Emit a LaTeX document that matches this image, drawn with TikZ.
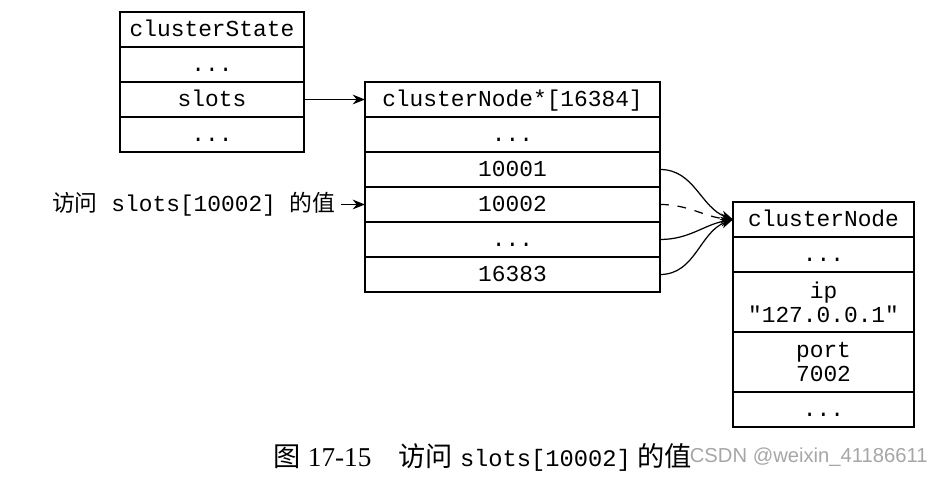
\documentclass[tikz,border=0pt]{standalone}
\usepackage{fontspec}
\setmainfont{Liberation Serif}
\setsansfont{Liberation Sans}
\setmonofont{Liberation Mono}
\newfontfamily\cjk{Noto Sans CJK SC}
\usepackage{tikz}
\usetikzlibrary{arrows.meta}

\begin{document}
\begin{tikzpicture}[font=\fontsize{13}{13.5}\selectfont\ttfamily, >={Stealth[length=7pt, width=5.5pt]},
  cell/.style={draw, line width=0.9pt, align=center, minimum height=7mm, inner sep=0pt, outer sep=0pt,
    text height=8.5pt, text depth=0pt},
  st/.style={cell, minimum width=3.68cm},
  slot/.style={cell, minimum width=5.9cm},
  cn/.style={cell, minimum width=3.62cm}]
  \useasboundingbox (0,0) rectangle (18.74,-9.54);
  % clusterState
  \node[st] (S1) at (4.24,-0.59) {clusterState};
  \node[st] (S2) at (4.24,-1.29) {...};
  \node[st] (S3) at (4.24,-1.99) {slots};
  \node[st] (S4) at (4.24,-2.69) {...};
  % slots array
  \node[slot] (A1) at (10.25,-1.99) {clusterNode*[16384]};
  \node[slot] (A2) at (10.25,-2.69) {...};
  \node[slot] (A3) at (10.25,-3.39) {10001};
  \node[slot] (A4) at (10.25,-4.09) {10002};
  \node[slot] (A5) at (10.25,-4.79) {...};
  \node[slot] (A6) at (10.25,-5.49) {16383};
  % clusterNode
  \node[cn] (C1) at (16.47,-4.39) {clusterNode};
  \node[cn] (C2) at (16.47,-5.09) {...};
  \node[cn, minimum height=12mm, text height=, text depth=] (C3) at (16.47,-6.04) {ip\\ "127.0.0.1"};
  \node[cn, minimum height=12mm, text height=, text depth=] (C4) at (16.47,-7.24) {port\\ 7002};
  \node[cn] (C5) at (16.47,-8.19) {...};
  % access label
  \node[anchor=east, inner sep=3pt] (lbl) at (6.82,-4.09)
    {{\cjk 访问} slots[10002] {\cjk 的值}};
  \draw[->, line width=0.9pt] (S3.east) -- (A1.west);
  \draw[->, line width=0.9pt] (lbl.east) -- (A4.west);
  \draw[->, line width=0.7pt] (A3.east) to[out=0, in=160] (C1.west);
  \draw[->, line width=0.7pt, dash pattern=on 5pt off 5pt] (A4.east) to[out=0, in=175] (C1.west);
  \draw[->, line width=0.7pt] (A5.east) to[out=0, in=190] (C1.west);
  \draw[->, line width=0.7pt] (A6.east) to[out=0, in=200] (C1.west);
  % caption
  \node[font=\fontsize{15.5}{18}\selectfont\rmfamily] (cap) at (9.66,-9.14)
    {{\cjk 图} 17-15\quad{\cjk 访问} {\fontsize{13.5}{15}\selectfont\ttfamily slots[10002]} {\cjk 的值}};
  \node[anchor=west, inner sep=0pt, text=gray!70, font=\fontsize{11.5}{14}\selectfont\sffamily] (wm)
    at ([xshift=-5pt]cap.east) {CSDN @weixin\_41186611};
\end{tikzpicture}
\end{document}
